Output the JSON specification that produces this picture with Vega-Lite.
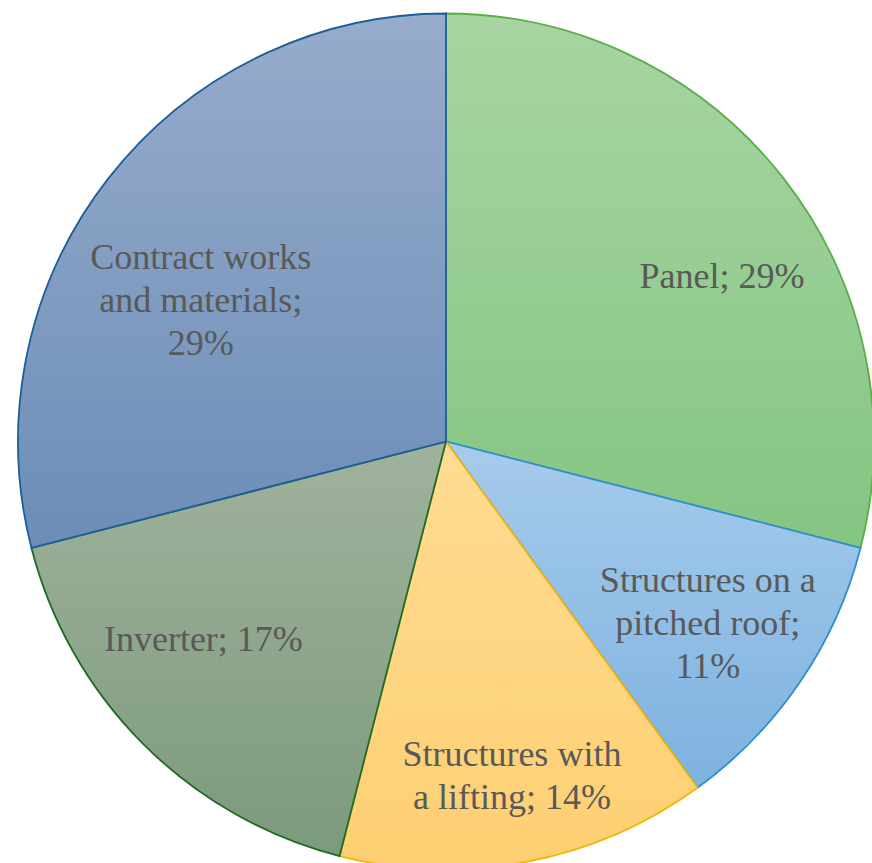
{
  "$schema": "https://vega.github.io/schema/vega-lite/v6.json",
  "width": 852,
  "height": 843,
  "autosize": {"type": "none"},
  "padding": {"left": 20, "top": 20, "right": 0, "bottom": 0},
  "background": "white",
  "config": {"view": {"stroke": null}},
  "data": {
    "values": [
      {"category": "Panel", "value": 29, "label": "Panel; 29%"},
      {"category": "Structures on a pitched roof", "value": 11, "label": "Structures on a\npitched roof;\n11%"},
      {"category": "Structures with a lifting", "value": 14, "label": "Structures with\na lifting; 14%"},
      {"category": "Inverter", "value": 17, "label": "Inverter; 17%"},
      {"category": "Contract works and materials", "value": 29, "label": "Contract works\nand materials;\n29%"}
    ]
  },
  "transform": [
    {"stack": "value", "groupby": [], "as": ["start", "end"]},
    {"calculate": "(datum.start + datum.end) / 2", "as": "mid"}
  ],
  "resolve": {"scale": {"theta": "shared"}},
  "layer": [
    {
      "transform": [{"filter": "datum.category === 'Panel'"}],
      "layer": [
        {
          "mark": {"type": "arc", "radius": 428, "stroke": "#5AAE4A", "strokeWidth": 1.8,
            "color": {"gradient": "linear", "x1": 0, "y1": 0, "x2": 0, "y2": 1, "stops": [{"offset": 0, "color": "#A8D5A2"}, {"offset": 1, "color": "#84C582"}]}},
          "encoding": {
            "theta": {"field": "start", "type": "quantitative", "scale": {"domain": [0, 100]}},
            "theta2": {"field": "end"}
          }
        },
        {
          "mark": {"type": "text", "radius": 319, "dx": 24, "dy": 31, "font": "Liberation Serif, Times New Roman, serif", "fontSize": 36, "color": "#595959", "align": "center", "baseline": "middle", "lineBreak": "\n", "lineHeight": 43},
          "encoding": {
            "theta": {"field": "mid", "type": "quantitative", "scale": {"domain": [0, 100]}},
            "text": {"field": "label"}
          }
        }
      ]
    },
    {
      "transform": [{"filter": "datum.category === 'Structures on a pitched roof'"}],
      "layer": [
        {
          "mark": {"type": "arc", "radius": 428, "stroke": "#2E8ED0", "strokeWidth": 1.8,
            "color": {"gradient": "linear", "x1": 0, "y1": 0, "x2": 0, "y2": 1, "stops": [{"offset": 0, "color": "#A6CBEC"}, {"offset": 1, "color": "#7DB2DF"}]}},
          "encoding": {
            "theta": {"field": "start", "type": "quantitative", "scale": {"domain": [0, 100]}},
            "theta2": {"field": "end"}
          }
        },
        {
          "mark": {"type": "text", "radius": 319, "dx": -2, "dy": -40, "font": "Liberation Serif, Times New Roman, serif", "fontSize": 36, "color": "#595959", "align": "center", "baseline": "middle", "lineBreak": "\n", "lineHeight": 43},
          "encoding": {
            "theta": {"field": "mid", "type": "quantitative", "scale": {"domain": [0, 100]}},
            "text": {"field": "label"}
          }
        }
      ]
    },
    {
      "transform": [{"filter": "datum.category === 'Structures with a lifting'"}],
      "layer": [
        {
          "mark": {"type": "arc", "radius": 428, "stroke": "#F2B705", "strokeWidth": 1.8,
            "color": {"gradient": "linear", "x1": 0, "y1": 0, "x2": 0, "y2": 1, "stops": [{"offset": 0, "color": "#FFDC93"}, {"offset": 1, "color": "#FDCF72"}]}},
          "encoding": {
            "theta": {"field": "start", "type": "quantitative", "scale": {"domain": [0, 100]}},
            "theta2": {"field": "end"}
          }
        },
        {
          "mark": {"type": "text", "radius": 341, "dx": 2, "dy": -21, "font": "Liberation Serif, Times New Roman, serif", "fontSize": 36, "color": "#595959", "align": "center", "baseline": "middle", "lineBreak": "\n", "lineHeight": 43},
          "encoding": {
            "theta": {"field": "mid", "type": "quantitative", "scale": {"domain": [0, 100]}},
            "text": {"field": "label"}
          }
        }
      ]
    },
    {
      "transform": [{"filter": "datum.category === 'Inverter'"}],
      "layer": [
        {
          "mark": {"type": "arc", "radius": 428, "stroke": "#1E6B26", "strokeWidth": 1.8,
            "color": {"gradient": "linear", "x1": 0, "y1": 0, "x2": 0, "y2": 1, "stops": [{"offset": 0, "color": "#A0B29C"}, {"offset": 1, "color": "#7C9A7C"}]}},
          "encoding": {
            "theta": {"field": "start", "type": "quantitative", "scale": {"domain": [0, 100]}},
            "theta2": {"field": "end"}
          }
        },
        {
          "mark": {"type": "text", "radius": 312, "dx": -22, "dy": -22, "font": "Liberation Serif, Times New Roman, serif", "fontSize": 36, "color": "#595959", "align": "center", "baseline": "middle", "lineBreak": "\n", "lineHeight": 43},
          "encoding": {
            "theta": {"field": "mid", "type": "quantitative", "scale": {"domain": [0, 100]}},
            "text": {"field": "label"}
          }
        }
      ]
    },
    {
      "transform": [{"filter": "datum.category === 'Contract works and materials'"}],
      "layer": [
        {
          "mark": {"type": "arc", "radius": 428, "stroke": "#1C5E98", "strokeWidth": 1.8,
            "color": {"gradient": "linear", "x1": 0, "y1": 0, "x2": 0, "y2": 1, "stops": [{"offset": 0, "color": "#97ACCC"}, {"offset": 1, "color": "#6C8DB7"}]}},
          "encoding": {
            "theta": {"field": "start", "type": "quantitative", "scale": {"domain": [0, 100]}},
            "theta2": {"field": "end"}
          }
        },
        {
          "mark": {"type": "text", "radius": 280, "dx": -24, "dy": -12, "font": "Liberation Serif, Times New Roman, serif", "fontSize": 36, "color": "#595959", "align": "center", "baseline": "middle", "lineBreak": "\n", "lineHeight": 43},
          "encoding": {
            "theta": {"field": "mid", "type": "quantitative", "scale": {"domain": [0, 100]}},
            "text": {"field": "label"}
          }
        }
      ]
    }
  ]
}
